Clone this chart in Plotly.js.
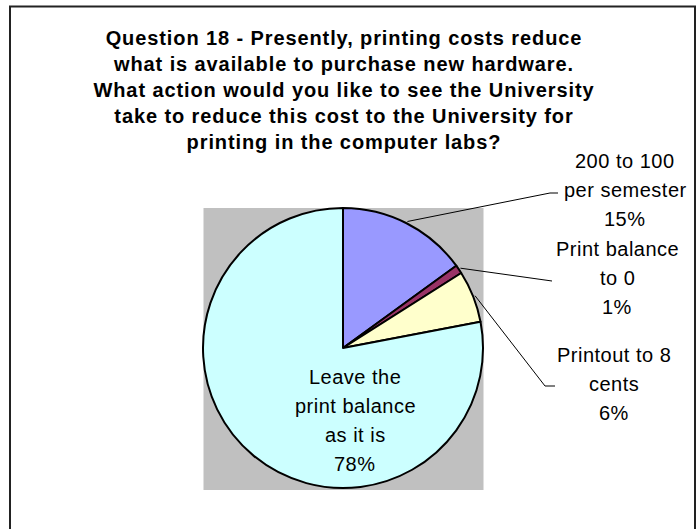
<!DOCTYPE html>
<html><head><meta charset="utf-8">
<script src="https://cdn.plot.ly/plotly-3.0.1.min.js"></script>
<style>
html,body{margin:0;padding:0;background:#fff;}
#chart{width:699px;height:529px;}
.gtitle{letter-spacing:0.9px;}
.annotation-text{letter-spacing:0.5px;}
</style></head><body><div id="chart"></div>
<script>
// ---- data ----
const titleLines = [
  "Question 18 - Presently, printing costs reduce",
  "what is available to purchase new hardware.",
  "What action would you like to see the University",
  "take to reduce this cost to the University for",
  "printing in the computer labs?"
];
const categories = ["200 to 100 per semester", "Print balance to 0", "Printout to 8 cents", "Leave the print balance as it is"];
const labelLines = [["200 to 100", "per semester"], ["Print balance", "to 0"], ["Printout to 8", "cents"], ["Leave the", "print balance", "as it is"]];
const percents = [15, 1, 6, 78];
const sliceColors = ["#9999FF", "#993366", "#FFFFCC", "#CCFFFF"];

// ---- layout geometry (pixels) ----
const W = 699, H = 529;
const cx = 343, cy = 348, R = 140;
const fx = x => x / W, fy = y => 1 - y / H;
const FONT = "Liberation Sans, Arial, sans-serif";

const labelPos = [
  {x: 625, ys: [161, 190, 219], leader: [[550, 193], [558, 193]]},
  {x: 617, ys: [249, 278, 307], leader: [[552, 281]]},
  {x: 614, ys: [355, 384, 413], leader: [[545, 386], [555, 386]]},
  {x: 355, ys: [377, 406, 435, 464], leader: null}
];

const total = percents.reduce((a, b) => a + b, 0);
const annotations = [];
const shapes = [
  {type: 'rect', xref: 'paper', yref: 'paper', layer: 'below',
   x0: fx(203.5), x1: fx(483.5), y0: fy(490), y1: fy(208),
   fillcolor: '#C0C0C0', line: {width: 0}},
  {type: 'rect', xref: 'paper', yref: 'paper', layer: 'above',
   x0: fx(10), x1: fx(695), y0: -0.05, y1: fy(6.5),
   fillcolor: 'rgba(0,0,0,0)', line: {color: '#222', width: 2}}
];

let cum = 0;
percents.forEach((p, i) => {
  const mid = (cum + p / 2) / total * 2 * Math.PI;
  cum += p;
  const pos = labelPos[i];
  const lines = labelLines[i].concat([p + '%']);
  lines.forEach((t, k) => {
    annotations.push({
      xref: 'paper', yref: 'paper', x: fx(pos.x), y: fy(pos.ys[k]),
      xanchor: 'center', yanchor: 'middle', showarrow: false,
      text: t, font: {family: FONT, size: 20, color: '#000'}
    });
  });
  if (pos.leader) {
    const ex = cx + (R + 2) * Math.sin(mid), ey = cy - (R + 2) * Math.cos(mid);
    let path = 'M ' + fx(ex) + ' ' + fy(ey);
    pos.leader.forEach(pt => { path += ' L ' + fx(pt[0]) + ' ' + fy(pt[1]); });
    shapes.push({type: 'path', xref: 'paper', yref: 'paper', layer: 'above',
      path: path, line: {color: '#000', width: 1}});
  }
});

const trace = {
  type: 'pie',
  values: percents,
  labels: categories,
  sort: false,
  direction: 'clockwise',
  rotation: 0,
  textinfo: 'none',
  hoverinfo: 'label+percent',
  showlegend: false,
  marker: {colors: sliceColors, line: {color: '#000', width: 2}},
  domain: {x: [fx(cx - R), fx(cx + R)], y: [fy(cy + R), fy(cy - R)]}
};

const layout = {
  width: W, height: H,
  margin: {l: 0, r: 0, t: 0, b: 0, pad: 0},
  paper_bgcolor: '#fff',
  showlegend: false,
  title: {
    text: titleLines.join('<br>'),
    font: {family: FONT, size: 20, color: '#000', weight: 'bold'},
    x: fx(344), xanchor: 'center', xref: 'container',
    y: fy(45), yanchor: 'middle', yref: 'container'
  },
  shapes: shapes,
  annotations: annotations
};

Plotly.newPlot('chart', [trace], layout, {displayModeBar: false, staticPlot: true});
</script></body></html>
